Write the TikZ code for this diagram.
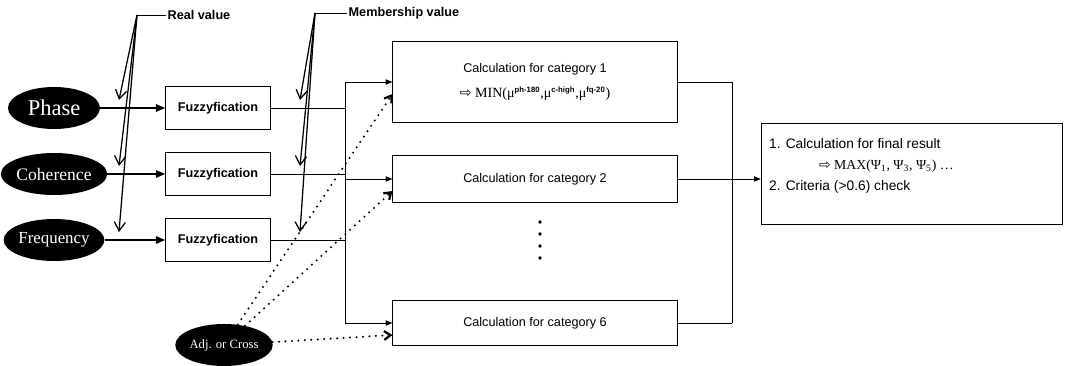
\documentclass[tikz,border=0pt]{standalone}
\usepackage{fontspec}
\setmainfont{Liberation Serif}
\setsansfont{Liberation Sans}
\newfontfamily\symfont{DejaVu Sans}
\usetikzlibrary{arrows.meta,shapes.geometric}
\newcommand\msup[1]{\textsuperscript{\sffamily\bfseries\fontsize{5.5}{6}\selectfont #1}}

\tikzset{
  inp/.style={ellipse, fill=black, text=white, minimum width=2.3cm, minimum height=1.05cm, inner sep=0pt},
  fuzz/.style={draw, line width=0.7pt, minimum width=2.6cm, minimum height=1.08cm, font=\sffamily\bfseries\fontsize{9}{10}\selectfont},
  calc/.style={draw, line width=0.7pt, minimum width=7.1cm, align=center, font=\sffamily\fontsize{9}{10}\selectfont},
  wire/.style={line width=0.7pt},
  feed/.style={line width=1.6pt, -{Triangle[length=2.4mm,width=1.8mm]}},
  tip/.style={wire, -{Triangle[length=1.7mm,width=1.3mm]}},
  callout/.style={line width=0.9pt, -{Straight Barb[length=2.2mm,width=2.8mm]}},
  adjl/.style={line width=1.6pt, line cap=round, dash pattern=on 0pt off 4.6pt, -{Straight Barb[length=1.6mm,width=2.2mm]}},
  lbl/.style={anchor=west, inner sep=1pt, font=\sffamily\bfseries\fontsize{9}{10}\selectfont}
}

\begin{document}
\begin{tikzpicture}[x=0.025cm, y=-0.025cm]
  \useasboundingbox (0,0) rectangle (1065,366);
  \def\bl{345}   % left bus
  \def\br{732}   % right bus
  \coordinate (busL) at (\bl,0);
  \coordinate (busR) at (\br,0);
  % inputs -> fuzzyfication -> left bus
  \foreach \n/\t/\s/\y in {phase/Phase/16/108, coh/Coherence/12.5/174, freq/Frequency/12/240} {
    \node[inp, font=\fontsize{\s}{\s}\selectfont] (\n) at (54,\y) {\t};
    \node[fuzz] (fz\n) at (218,\y) {Fuzzyfication};
    \draw[feed] (\n) -- (fz\n);
    \draw[wire] (fz\n) -- (fz\n -| busL);
    \coordinate (rv\n) at (119,\y-8);
    \coordinate (mv\n) at (300,\y-8);
  }
  % categories
  \node[calc, minimum height=2.03cm] (cat1) at (535,82)
    {Calculation for category 1\\[8pt]{\rmfamily\fontsize{10}{12}\selectfont{\symfont ⇨} MIN(μ\msup{ph-180},μ\msup{c-high},μ\msup{fq-20})}};
  \node[calc, minimum height=1.18cm] (cat2) at (535,179) {Calculation for category 2};
  \node[calc, minimum height=1.13cm] (cat6) at (535,323) {Calculation for category 6};
  \foreach \d in {222,234,246,258} { \fill (540,\d) circle (1.4pt); }
  % final result
  \node[draw, line width=0.7pt, minimum width=7.53cm, minimum height=2.5cm] (final) at (912,174) {};
  \node[anchor=north west, align=left, inner sep=0pt, font=\sffamily\fontsize{9.8}{15}\selectfont] (finaltxt)
    at ([xshift=2mm, yshift=-3.6mm]final.north west)
    {1. Calculation for final result\\
     \hspace*{1.25cm}{\rmfamily{\symfont ⇨} MAX(Ψ\textsubscript{1}, Ψ\textsubscript{3}, Ψ\textsubscript{5}) …}\\
     2. Criteria (>0.6) check};
  % buses
  \draw[wire] (cat1.west -| busL) -- (cat6.west -| busL);
  \draw[wire] (cat1.east -| busR) -- (cat6.east -| busR);
  \foreach \c in {cat1,cat2,cat6} {
    \draw[tip] (\c.west -| busL) -- (\c.west);
    \draw[wire] (\c.east) -- (\c.east -| busR);
  }
  \draw[tip] (cat2.east -| busR) -- (cat2.east -| final.west);
  % adjust input
  \node[inp, font=\fontsize{9}{9}\selectfont] (adj) at (224,345) {Adj. or Cross};
  \foreach \c in {cat1,cat2,cat6} { \draw[adjl] (adj) -- ([yshift=-3mm]\c.west); }
  % callouts
  \node[lbl] (realv) at (166,15) {Real value};
  \node[lbl] (memv) at (347,13) {Membership value};
  \coordinate (rvk) at (137,15);
  \coordinate (mvk) at (315,13);
  \draw[wire] (realv) -- (rvk);
  \draw[wire] (memv) -- (mvk);
  \foreach \n in {phase,coh,freq} {
    \draw[callout] (rvk) -- (rv\n);
    \draw[callout] (mvk) -- (mv\n);
  }
\end{tikzpicture}
\end{document}
